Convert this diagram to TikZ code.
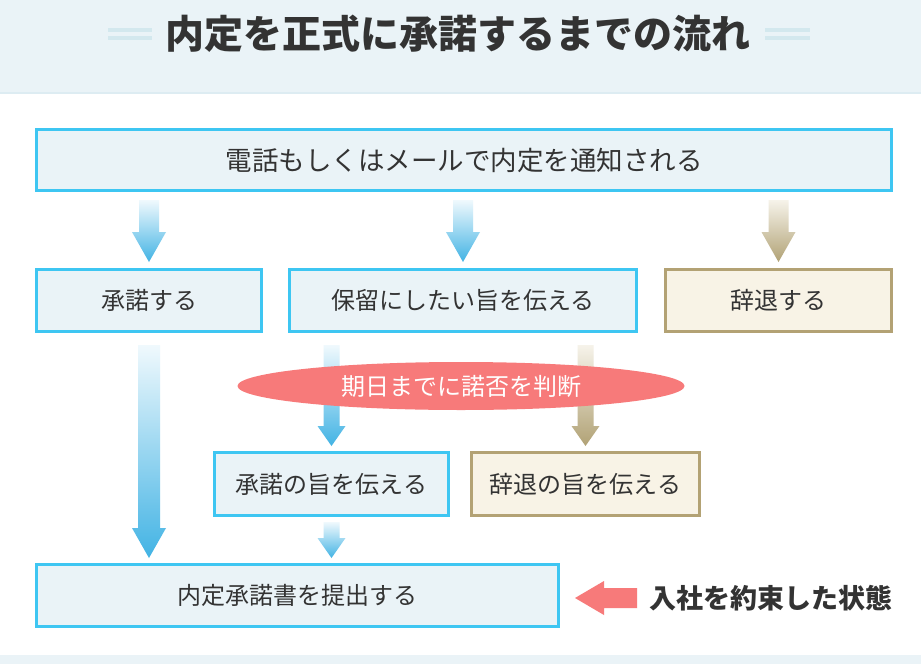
\documentclass[tikz,border=0pt]{standalone}
\usepackage{fontspec}
\setmainfont{Noto Sans CJK JP}
\usetikzlibrary{calc,shapes.geometric}
\definecolor{bandfill}{HTML}{EAF3F7}
\definecolor{bandline}{HTML}{DDECF2}
\definecolor{deco}{HTML}{D3E8EE}
\definecolor{txt}{HTML}{333333}
\definecolor{bluebd}{HTML}{3EC6F2}
\definecolor{bluefill}{HTML}{EAF3F7}
\definecolor{khakibd}{HTML}{B3A274}
\definecolor{khakifill}{HTML}{F8F3E6}
\definecolor{pinkc}{HTML}{F77A7A}
\definecolor{arrowblue}{HTML}{42B3E4}
\definecolor{arrowbluetop}{HTML}{F0F9FD}
\definecolor{arrowkhaki}{HTML}{B1A275}
\definecolor{arrowkhakitop}{HTML}{F6F3EA}
\newcommand\garrow[6]{%
  \shade[#6] let \p1=#1, \p2=#2 in
    (\x1-#3pt,\y1) -- (\x1+#3pt,\y1) -- (\x1+#3pt,\y2+#5pt) -- (\x1+#4pt,\y2+#5pt)
    -- (\x1,\y2) -- (\x1-#4pt,\y2+#5pt) -- (\x1-#3pt,\y2+#5pt) -- cycle;}
\begin{document}
\begin{tikzpicture}[x=1pt,y=-1pt,
  boxtext/.style={font=\fontsize{24}{28}\selectfont, text=txt, inner sep=0pt},
  bluebox/.style={boxtext, draw=bluebd, fill=bluefill, line width=3pt, rectangle},
  khakibox/.style={boxtext, draw=khakibd, fill=khakifill, line width=3pt, rectangle},
  bluearrow/.style={top color=arrowbluetop, bottom color=arrowblue},
  khakiarrow/.style={top color=arrowkhakitop, bottom color=arrowkhaki},
  decoline/.style={draw=deco, line width=3.5pt}]
\useasboundingbox (0,0) rectangle (921,664);
\fill[white] (0,0) rectangle (921,664);
\fill[bandfill] (0,0) rectangle (921,93);
\draw[bandline, line width=2pt] (0,93) -- (921,93);
\fill[bandfill] (0,655) rectangle (921,664);
% title
\node[font=\fontsize{39}{44}\selectfont\bfseries, text=txt, inner sep=0pt] (title) at (458,34) {内定を正式に承諾するまでの流れ};
\draw[decoline] (108,30) -- (152,30);
\draw[decoline] (108,38) -- (152,38);
\draw[decoline] (765,30) -- (810,30);
\draw[decoline] (765,38) -- (810,38);
% boxes
\node[bluebox, font=\fontsize{26.5}{30}\selectfont, minimum width=855pt, minimum height=61pt] (top) at (464,160) {電話もしくはメールで内定を通知される};
\node[bluebox, minimum width=225pt, minimum height=62pt] (acc) at (149,300.5) {承諾する};
\node[bluebox, minimum width=347pt, minimum height=62pt] (hold) at (463,300.5) {保留にしたい旨を伝える};
\node[khakibox, minimum width=226pt, minimum height=62pt] (dec) at (778.5,300.5) {辞退する};
\node[bluebox, minimum width=234pt, minimum height=63pt] (accmsg) at (331.5,484) {承諾の旨を伝える};
\node[khakibox, minimum width=228pt, minimum height=63pt] (decmsg) at (585.5,484) {辞退の旨を伝える};
\node[bluebox, minimum width=522pt, minimum height=62pt] (submit) at (297.5,595.5) {内定承諾書を提出する};
% arrows
\garrow{($(top.south -| acc.north)+(0,8)$)}{($(acc.north)+(0,-6)$)}{10}{17}{30}{bluearrow}
\garrow{($(top.south -| hold.north)+(0,8)$)}{($(hold.north)+(0,-6)$)}{10}{17}{30}{bluearrow}
\garrow{($(top.south -| dec.north)+(0,8)$)}{($(dec.north)+(0,-6)$)}{10}{17}{30}{khakiarrow}
\garrow{($(acc.south)+(0,12)$)}{($(submit.north -| acc.south)+(0,-5)$)}{11}{17}{30}{bluearrow}
\garrow{($(hold.south -| accmsg.north)+(0,12)$)}{($(accmsg.north)+(0,-5)$)}{8}{14}{20}{bluearrow}
\garrow{($(hold.south -| decmsg.north)+(0,12)$)}{($(decmsg.north)+(0,-5)$)}{8}{14}{20}{khakiarrow}
\garrow{($(accmsg.south)+(0,5)$)}{($(submit.north -| accmsg.south)+(0,-5)$)}{8}{14}{20}{bluearrow}
% ellipse
\node[ellipse, fill=pinkc, minimum width=447pt, minimum height=48pt, inner sep=0pt,
  font=\fontsize{24}{28}\selectfont, text=white] (judge) at (461,386) {期日までに諾否を判断};
% side label and pink arrow
\node[font=\fontsize{27}{30}\selectfont\bfseries, text=txt, inner sep=0pt, anchor=west] (state) at (649,598) {入社を約束した状態};
\fill[pinkc] let \p1=($(state.west)+(-12,0)$), \p2=($(submit.east)+(15,0)$) in
  (\x1,\y1+10pt) -- (\x2+29pt,\y1+10pt) -- (\x2+29pt,\y1+17pt) -- (\x2,\y1)
  -- (\x2+29pt,\y1-17pt) -- (\x2+29pt,\y1-10pt) -- (\x1,\y1-10pt) -- cycle;
\end{tikzpicture}
\end{document}
